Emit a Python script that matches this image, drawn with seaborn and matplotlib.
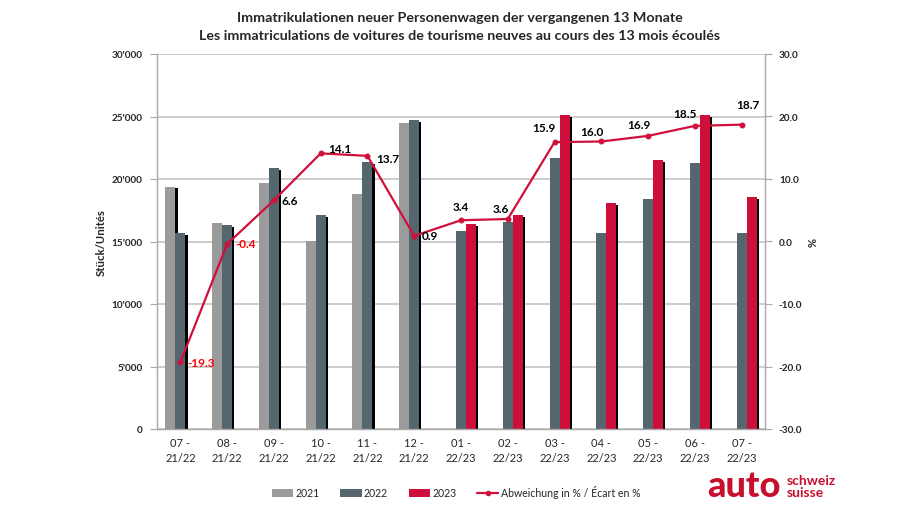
import numpy as np
import pandas as pd
import matplotlib
matplotlib.use("Agg")
import matplotlib.pyplot as plt
import matplotlib.patheffects as pe
from matplotlib.patches import Patch
from matplotlib.lines import Line2D
from matplotlib.ticker import FuncFormatter, FixedLocator
import seaborn as sns

# ---------------- data ----------------
months = ["07 -\n21/22", "08 -\n21/22", "09 -\n21/22", "10 -\n21/22", "11 -\n21/22", "12 -\n21/22",
          "01 -\n22/23", "02 -\n22/23", "03 -\n22/23", "04 -\n22/23", "05 -\n22/23", "06 -\n22/23",
          "07 -\n22/23"]
years = ["2021", "2022", "2023"]
v2021 = [19400, 16450, 19650, 15050, 18800, 24500, None, None, None, None, None, None, None]
v2022 = [15650, 16300, 20900, 17150, 21350, 24700, 15850, 16550, 21700, 15650, 18400, 21250, 15650]
v2023 = [None, None, None, None, None, None, 16400, 17150, 25100, 18100, 21500, 25150, 18550]
pct = [-19.3, -0.4, 6.6, 14.1, 13.7, 0.9, 3.4, 3.6, 15.9, 16.0, 16.9, 18.5, 18.7]

title1 = "Immatrikulationen neuer Personenwagen der vergangenen 13 Monate"
title2 = "Les immatriculations de voitures de tourisme neuves au cours des 13 mois écoulés"
ylabel_left = "Stück/Unités"
ylabel_right = "%"
line_label = "Abweichung in % / Écart en %"

# ---------------- styles ----------------
colors = {"2021": "#9b9b9b", "2022": "#56666f", "2023": "#cf0f3b"}
line_color = "#d0103a"
grid_color = "#c4c4c4"
# label offsets in pixels (dx, dy) and alignment
label_pos = [(7, 0, "left"), (8, 0, "left"), (8, 0, "left"), (8, 5, "left"), (9, -3, "left"),
             (8, 0, "left"), (0, 14, "center"), (-7, 10, "center"), (-11, 15, "center"),
             (-9, 10, "center"), (-9, 11, "center"), (-10, 12, "center"), (6, 20, "center")]

sns.set_style("white")
plt.rcParams["font.family"] = ["Lato", "DejaVu Sans"]

rows = []
for yr, vals in zip(years, [v2021, v2022, v2023]):
    for m, v in zip(months, vals):
        if v is not None:
            rows.append({"month": m, "year": yr, "value": v})
df = pd.DataFrame(rows)

fig = plt.figure(figsize=(9.2, 5.1), dpi=100)
ax = fig.add_axes([157 / 920, 1 - 430 / 510, 608 / 920, 375 / 510])

sns.barplot(data=df, x="month", y="value", hue="year", order=months, hue_order=years,
            palette=colors, width=0.64, saturation=1, dodge=True, ax=ax, legend=False,
            edgecolor="none", linewidth=0)
for p in ax.patches:
    p.set_path_effects([pe.SimplePatchShadow(offset=(1.6, -1.4), shadow_rgbFace="black", alpha=1.0),
                        pe.Normal()])

ax.set_xlim(-0.5, len(months) - 0.5)
ax.set_ylim(0, 30000)
ax.yaxis.set_major_locator(FixedLocator(np.arange(0, 30001, 5000)))
ax.yaxis.set_major_formatter(FuncFormatter(lambda v, _: f"{int(v):,}".replace(",", "'")))
ax.grid(axis="y", color=grid_color, linewidth=1.2)
ax.set_axisbelow(True)
ax.set_xlabel("")
ax.set_ylabel(ylabel_left, fontsize=8.2, fontweight="bold")
ax.yaxis.set_label_coords(-0.082, 0.5)
for s in ["top", "right"]:
    ax.spines[s].set_visible(False)
for s in ["left", "bottom"]:
    ax.spines[s].set_color("#a8a8a8")
    ax.spines[s].set_linewidth(1.0)
ax.tick_params(axis="y", direction="out", length=5, color="#a8a8a8", labelsize=7.2, pad=5.5)
for t in ax.get_yticklabels():
    t.set_fontweight("bold")
ax.tick_params(axis="x", which="major", length=0, labelsize=8, pad=6)
ax.set_xticks(np.arange(len(months) + 1) - 0.5, minor=True)
ax.tick_params(axis="x", which="minor", direction="out", length=5, color="#a8a8a8")
for t in ax.get_xticklabels():
    t.set_linespacing(1.45)

ax2 = ax.twinx()
sns.lineplot(x=np.arange(len(pct)), y=pct, ax=ax2, color=line_color, linewidth=1.6,
             marker="o", markersize=3.5, markeredgecolor=line_color, legend=False)
ax2.set_ylim(-30, 30)
ax2.yaxis.set_major_locator(FixedLocator(np.arange(-30, 31, 10)))
ax2.yaxis.set_major_formatter(FuncFormatter(lambda v, _: f"{v:.1f}"))
ax2.tick_params(axis="y", direction="out", length=5, color="#a8a8a8", labelsize=7.2, pad=5)
for t in ax2.get_yticklabels():
    t.set_fontweight("bold")
ax2.set_ylabel(ylabel_right, fontsize=8, fontweight="bold", labelpad=4)
for s in ["top", "left", "bottom"]:
    ax2.spines[s].set_visible(False)
ax2.spines["right"].set_color("#a8a8a8")
ax2.spines["right"].set_linewidth(1.0)

for i, (v, (dx, dy, ha)) in enumerate(zip(pct, label_pos)):
    ax2.annotate(f"{v:.1f}", xy=(i, v), xytext=(dx, dy), textcoords="offset pixels",
                 ha=ha, va="center", fontsize=8.5, fontweight="bold",
                 color="#ff0000" if v < 0 else "black")

fig.text(0.5, 1 - 18 / 510, title1, ha="center", va="center", fontsize=10.3, fontweight="bold")
fig.text(0.5, 1 - 36 / 510, title2, ha="center", va="center", fontsize=10.3, fontweight="bold")

handles = [Patch(facecolor=colors[y], edgecolor="none") for y in years]
handles.append(Line2D([0], [0], color=line_color, linewidth=1.6, marker="o", markersize=3))
labels = years + [line_label]
fig.legend(handles, labels, loc="center", bbox_to_anchor=(456 / 920, 1 - 493 / 510), ncol=4,
           frameon=False, fontsize=7.6, handlelength=2.0, handleheight=0.75, handletextpad=0.2,
           columnspacing=2.0)

logo_red = "#c8102e"
fig.text(707 / 920, 1 - 497 / 510, "auto", ha="left", va="baseline", fontsize=26,
         fontweight="black", color=logo_red)
fig.text(787 / 920, 1 - 485 / 510, "schweiz", ha="left", va="baseline", fontsize=10,
         fontweight="bold", color=logo_red)
fig.text(787 / 920, 1 - 497 / 510, "suisse", ha="left", va="baseline", fontsize=10,
         fontweight="bold", color=logo_red)

fig.savefig("out.png", dpi=100)
